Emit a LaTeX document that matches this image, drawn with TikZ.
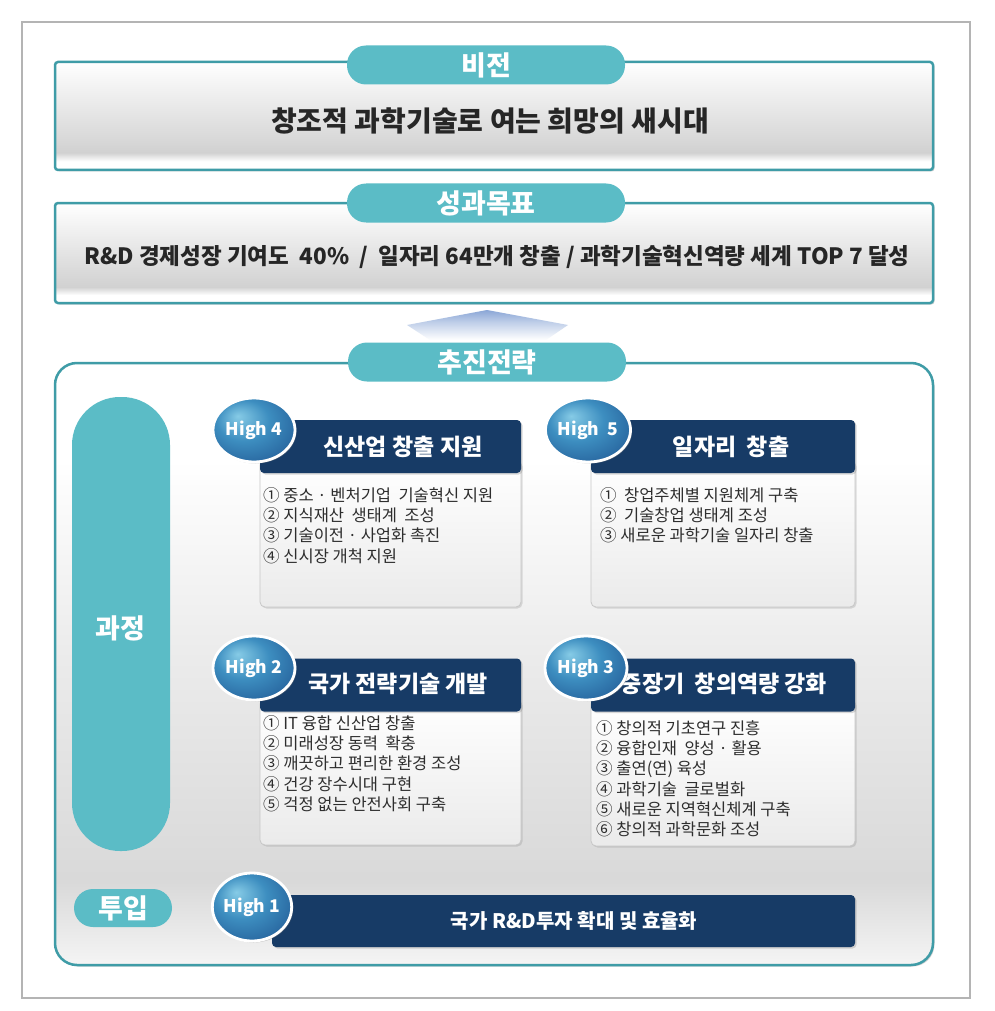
\documentclass[tikz,border=0pt]{standalone}
\usepackage{fontspec}
\setmainfont{Noto Sans CJK KR}
\usetikzlibrary{shapes.geometric,shadows}
\definecolor{tabteal}{HTML}{5BBCC6}
\definecolor{lineteal}{HTML}{3F9CA7}
\definecolor{navy}{HTML}{173B66}
\definecolor{badgelight}{HTML}{86CBE6}
\definecolor{badgemid}{HTML}{3D8EC0}
\definecolor{badgedark}{HTML}{25609A}
\definecolor{arrowblue}{HTML}{8AA6D6}
\definecolor{framegray}{HTML}{B4B4B4}
\pgfdeclareverticalshading{boxshade}{100bp}{color(0bp)=(white); color(25bp)=(white); color(29bp)=(white); color(33bp)=(black!18); color(75bp)=(white); color(100bp)=(white)}
\pgfdeclareverticalshading{stratshade}{100bp}{color(0bp)=(black!4); color(25bp)=(black!4); color(32bp)=(black!15); color(50bp)=(black!8); color(67bp)=(white); color(100bp)=(white)}
\pgfdeclareverticalshading{bodyshade}{100bp}{color(0bp)=(black!8); color(25bp)=(black!8); color(75bp)=(white); color(100bp)=(white)}
\pgfdeclareverticalshading{arrowshade}{100bp}{color(0bp)=(white); color(25bp)=(white); color(55bp)=(arrowblue!55); color(75bp)=(arrowblue); color(100bp)=(arrowblue)}
\pgfdeclareradialshading{badgeshade}{\pgfpoint{-10bp}{11bp}}{color(0bp)=(badgelight); color(16bp)=(badgemid); color(34bp)=(badgedark); color(50bp)=(badgedark)}
\tikzset{
  mainbox/.style={draw=lineteal, line width=2.5pt, rounded corners=3pt, shade, shading=boxshade,
    minimum width=878pt, inner sep=0pt, drop shadow={opacity=0.35, shadow xshift=1.5pt, shadow yshift=-1.5pt}},
  tabpill/.style={fill=tabteal, rounded corners=19pt, minimum width=278pt, minimum height=39pt,
    text=white, font=\fontsize{27}{30}\selectfont\bfseries, inner sep=0pt},
  sidepill/.style={fill=tabteal, minimum width=98pt, inner sep=0pt, text=white,
    font=\fontsize{27}{30}\selectfont\bfseries},
  cardhead/.style={fill=navy, rounded corners=4pt, minimum height=53pt, inner sep=0pt,
    drop shadow={opacity=0.3, shadow xshift=1.5pt, shadow yshift=-1.5pt}},
  cardbody/.style={draw=black!22, line width=0.8pt, rounded corners=5pt, shade, shading=bodyshade,
    inner sep=0pt, drop shadow={opacity=0.25, shadow xshift=1.5pt, shadow yshift=-1.5pt}},
  headtitle/.style={text=white, font=\fontsize{23}{26}\selectfont\bfseries, inner sep=0pt},
  items/.style={anchor=north west, align=left, inner sep=0pt, text=black!82,
    font=\fontsize{16.5}{20.3}\selectfont},
  badge/.style={ellipse, minimum width=82pt, minimum height=64pt, shade, shading=badgeshade,
    draw=white, line width=2.8pt, text=white, font=\fontsize{17.5}{20}\selectfont\bfseries,
    inner sep=0pt, drop shadow={opacity=0.4, shadow xshift=1.5pt, shadow yshift=-1.5pt}},
  maintext/.style={text=black!85, inner sep=0pt}
}
\begin{document}
\begin{tikzpicture}[x=1pt,y=-1pt]
\useasboundingbox (0,0) rectangle (994,1011);
\fill[white] (0,0) rectangle (994,1011);
\draw[framegray, line width=1.2pt] (22,22) rectangle (970,998);

% Vision
\node[mainbox, minimum height=108pt] (vision) at (494,116) {};
\node[tabpill] (visiontab) at (486,65) {비전};
\node[maintext, font=\fontsize{28}{31}\selectfont\bfseries] (visiontext) at (490,121) {창조적 과학기술로 여는 희망의 새시대};

% Goals
\node[mainbox, minimum height=100pt] (goals) at (494,253) {};
\node[tabpill] (goalstab) at (486,203) {성과목표};
\node[maintext, font=\fontsize{22.5}{26}\selectfont\bfseries] (goalstext) at (497,257) {R\&D 경제성장 기여도 \ 40\% \ / \ 일자리 64만개 창출 / 과학기술혁신역량 세계 TOP 7 달성};

% Arrow
\path[shade, shading=arrowshade] (487,310) -- (568,325) -- (546,340) -- (430,340) -- (407,325) -- cycle;

% Strategy
\node[mainbox, rounded corners=22pt, shading=stratshade, minimum height=602pt] (strategy) at (494,664) {};
\node[tabpill] (strategytab) at (487,362) {추진전략};

\node[sidepill, rounded corners=48pt, minimum height=454pt] (process) at (121,624) {};
\node[text=white, font=\fontsize{27}{30}\selectfont\bfseries, inner sep=0pt] (processtext) at (120,628) {과정};
\node[sidepill, rounded corners=19pt, minimum height=38pt] (input) at (123,908) {투입};

% High 4
\node[cardbody, minimum width=261pt, minimum height=147pt] (b4) at (390.5,533.5) {};
\node[cardhead, minimum width=261pt] (h4) at (390.5,446.5) {};
\node[headtitle] (t4) at (403,447) {신산업 창출 지원};
\node[items] (i4) at (263,487) {① 중소 · 벤처기업 \ 기술혁신 지원\\② 지식재산 \ 생태계 \ 조성\\③ 기술이전 · 사업화 촉진\\④ 신시장 개척 지원};
\node[badge] (c4) at (254,430) {High 4};

% High 5
\node[cardbody, minimum width=264pt, minimum height=147pt] (b5) at (723,533.5) {};
\node[cardhead, minimum width=264pt] (h5) at (723,446.5) {};
\node[headtitle] (t5) at (731,447) {일자리 \ 창출};
\node[items] (i5) at (600,487) {① \ 창업주체별 지원체계 구축\\② \ 기술창업 생태계 조성\\③ 새로운 과학기술 일자리 창출};
\node[badge] (c5) at (588,430) {High \ 5};

% High 2
\node[cardbody, minimum width=261pt, minimum height=146pt] (b2) at (390.5,772) {};
\node[cardhead, minimum width=261pt] (h2) at (390.5,685) {};
\node[headtitle] (t2) at (398,684) {국가 전략기술 개발};
\node[items] (i2) at (263,715) {① IT 융합 신산업 창출\\② 미래성장 동력 \ 확충\\③ 깨끗하고 편리한 환경 조성\\④ 건강 장수시대 구현\\⑤ 걱정 없는 안전사회 구축};
\node[badge] (c2) at (254,668) {High 2};

% High 3
\node[cardbody, minimum width=264pt, minimum height=147pt] (b3) at (723,772.5) {};
\node[cardhead, minimum width=264pt] (h3) at (723,685) {};
\node[headtitle] (t3) at (724,684) {중장기 \ 창의역량 강화};
\node[items] (i3) at (596,720) {① 창의적 기초연구 진흥\\② 융합인재 \ 양성 · 활용\\③ 출연(연) 육성\\④ 과학기술 \ 글로벌화\\⑤ 새로운 지역혁신체계 구축\\⑥ 창의적 과학문화 조성};
\node[badge] (c3) at (586,668) {High 3};

% High 1
\node[cardhead, minimum width=583pt, minimum height=52pt] (h1) at (563.5,921) {};
\node[headtitle, font=\fontsize{20}{24}\selectfont\bfseries] (t1) at (574,921) {국가 R\&D투자 확대 및 효율화};
\node[badge, minimum width=76pt, minimum height=68pt] (c1) at (252,907) {High 1};
\end{tikzpicture}
\end{document}
